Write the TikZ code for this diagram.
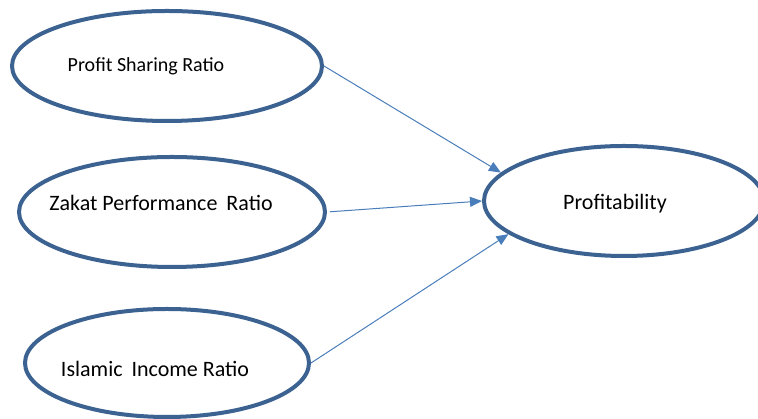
\documentclass[tikz,border=0pt]{standalone}
\usepackage{tikz}
\usepackage{fontspec}
\setmainfont{Carlito}
\usetikzlibrary{arrows.meta, shapes.geometric}
\definecolor{rimblue}{HTML}{3B6290}
\definecolor{linkblue}{HTML}{4A7EBB}

\begin{document}
\begin{tikzpicture}[x=1pt, y=1pt,
  var/.style={ellipse, draw=rimblue, line width=4pt, inner sep=0pt, minimum height=110pt},
  lbl/.style={font=\fontsize{22}{26}\selectfont, inner sep=0pt},
  link/.style={linkblue, line width=1pt, -{Triangle[length=12pt, width=10pt]}}]
\useasboundingbox (0,0) rectangle (758,419);

% Independent variables
\node[var, minimum width=310pt] (psr) at (167,353) {};
\node[var, minimum width=306pt] (zpr) at (172,207) {};
\node[var, minimum width=284pt, minimum height=108pt] (iir) at (167,56) {};

% Dependent variable
\node[var, minimum width=280pt] (prof) at (624,218) {};

% Labels
\node[lbl, font=\fontsize{20}{24}\selectfont] (psr-t) at ([xshift=-21pt]psr) {Profit Sharing Ratio};
\node[lbl] (zpr-t) at ([xshift=-11pt, yshift=9pt]zpr) {Zakat Performance\hspace{4pt} Ratio};
\node[lbl] (iir-t) at ([xshift=-12pt, yshift=-6pt]iir) {Islamic\hspace{4pt} Income Ratio};
\node[lbl] (prof-t) at ([xshift=-9pt, yshift=-3pt]prof) {Profitability};

% Paths
\draw[link] (psr.east) -- (prof.167);
\draw[link, shorten <=3pt] (zpr.east) -- (prof.west);
\draw[link] (iir.east) -- (prof.196);

\end{tikzpicture}
\end{document}
